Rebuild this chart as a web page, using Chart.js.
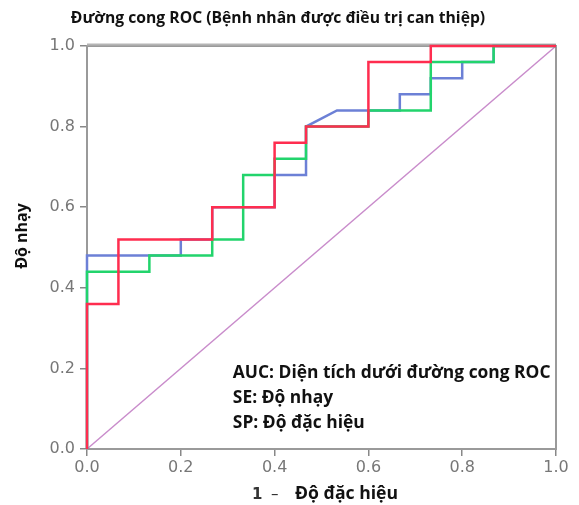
<!DOCTYPE html>
<html>
<head>
<meta charset="utf-8">
<script src="https://cdn.jsdelivr.net/npm/chart.js@4.4.0/dist/chart.umd.min.js"></script>
<style>
  html, body { margin: 0; padding: 0; background: #fff; }
  #wrap { width: 579px; height: 505px; }
</style>
</head>
<body>
<div id="wrap"><canvas id="roc-chart"></canvas></div>
<script>
// ROC curves (x step 1/15, y step 0.04)
var blueX = [0, 0, 0.2, 0.2, 0.267, 0.267, 0.4, 0.4, 0.467, 0.467, 0.533, 0.667, 0.667, 0.733, 0.733, 0.8, 0.8, 0.867, 0.867, 1];
var blueY = [0, 0.48, 0.48, 0.52, 0.52, 0.6, 0.6, 0.68, 0.68, 0.8, 0.84, 0.84, 0.88, 0.88, 0.92, 0.92, 0.96, 0.96, 1, 1];

var greenX = [0, 0, 0.133, 0.133, 0.267, 0.267, 0.333, 0.333, 0.4, 0.4, 0.467, 0.467, 0.6, 0.6, 0.733, 0.733, 0.867, 0.867, 1];
var greenY = [0, 0.44, 0.44, 0.48, 0.48, 0.52, 0.52, 0.68, 0.68, 0.72, 0.72, 0.8, 0.8, 0.84, 0.84, 0.96, 0.96, 1, 1];

var redX = [0, 0, 0.067, 0.067, 0.267, 0.267, 0.4, 0.4, 0.467, 0.467, 0.6, 0.6, 0.733, 0.733, 1];
var redY = [0, 0.36, 0.36, 0.52, 0.52, 0.6, 0.6, 0.76, 0.76, 0.8, 0.8, 0.96, 0.96, 1, 1];

var refX = [0, 1];
var refY = [0, 1];

var tickValues = [0, 0.2, 0.4, 0.6, 0.8, 1.0];
var chartTitle = "Đường cong ROC (Bệnh nhân được điều trị can thiệp)";
var yTitle = "Độ nhạy";
var xTitleMain = "Độ đặc hiệu";
var notes = ["AUC: Diện tích dưới đường cong ROC", "SE: Độ nhạy", "SP: Độ đặc hiệu"];

function toPoints(xs, ys) {
    var pts = [];
    for (var i = 0; i < xs.length; i++) {
        pts.push({x: xs[i], y: ys[i]});
    }
    return pts;
}

function lineSet(xs, ys, color, width, order) {
    return {
        data: toPoints(xs, ys),
        borderColor: color,
        borderWidth: width,
        pointRadius: 0,
        fill: false,
        tension: 0,
        clip: 5,
        order: order
    };
}

// frame under the lines, titles and notes on top
var framePlugin = {
    id: 'frame',
    beforeDatasetsDraw: function(chart) {
        var ctx = chart.ctx;
        var a = chart.chartArea;
        ctx.save();
        ctx.strokeStyle = '#9a9a9a';
        ctx.lineWidth = 2;
        ctx.strokeRect(a.left, a.top, a.right - a.left, a.bottom - a.top);
        ctx.strokeStyle = '#b5b5b5';
        ctx.beginPath();
        ctx.moveTo(a.left, a.top - 1.5);
        ctx.lineTo(a.right, a.top - 1.5);
        ctx.stroke();
        ctx.restore();
    },
    afterDatasetsDraw: function(chart) {
        var ctx = chart.ctx;
        var a = chart.chartArea;
        var xs = chart.scales.x, ys = chart.scales.y;
        ctx.save();
        ctx.fillStyle = '#111';
        ctx.textBaseline = 'middle';
        ctx.textAlign = 'center';
        ctx.font = 'bold 15.7px "Open Sans"';
        ctx.fillText(chartTitle, a.left + 191, 19);

        // notes
        ctx.font = 'bold 17.4px "Open Sans"';
        ctx.textBaseline = 'alphabetic';
        ctx.textAlign = 'left';
        var x0 = xs.getPixelForValue(0.311);
        for (var i = 0; i < notes.length; i++) {
            ctx.fillText(notes[i], x0, ys.getPixelForValue(0.175) + i * 25);
        }

        // x title
        ctx.textBaseline = 'middle';
        ctx.fillStyle = '#333';
        ctx.font = 'bold 15px "DejaVu Sans"';
        ctx.fillText('1', a.left + 165, 495);
        ctx.font = '15px "DejaVu Sans"';
        ctx.fillText('–', a.left + 184, 495);
        ctx.fillStyle = '#111';
        ctx.font = 'bold 17.6px "Open Sans"';
        ctx.fillText(xTitleMain, a.left + 208, 494);

        // y title
        ctx.translate(22, 236);
        ctx.rotate(-Math.PI / 2);
        ctx.textAlign = 'center';
        ctx.font = 'bold 16px "Open Sans"';
        ctx.fillText(yTitle, 0, 0);
        ctx.restore();
    }
};

function axisTicks(pad) {
    return {
        color: '#777',
        font: { family: '"DejaVu Sans"', size: 16 },
        padding: pad,
        callback: function(v) { return v.toFixed(1); }
    };
}
var axisGrid = { drawOnChartArea: false, drawTicks: true, tickLength: 7, color: '#888', lineWidth: 1.5 };

new Chart(document.getElementById('roc-chart'), {
    type: 'line',
    data: {
        datasets: [
            lineSet(refX, refY, '#c98ccb', 1.5, 4),
            lineSet(blueX, blueY, '#6c80d6', 2.5, 3),
            lineSet(greenX, greenY, '#22d46c', 2.5, 2),
            lineSet(redX, redY, '#ff2d4f', 2.5, 1)
        ]
    },
    options: {
        responsive: true,
        maintainAspectRatio: false,
        animation: false,
        layout: { padding: { left: 0, right: 23, top: 46, bottom: 0 } },
        plugins: {
            legend: { display: false },
            tooltip: { enabled: false },
            title: { display: false }
        },
        scales: {
            x: {
                type: 'linear',
                min: 0,
                max: 1,
                afterBuildTicks: function(scale) {
                    scale.ticks = tickValues.map(function(v) { return {value: v}; });
                },
                afterFit: function(scale) { scale.height = 56; },
                ticks: axisTicks(2),
                grid: axisGrid,
                border: { display: false }
            },
            y: {
                type: 'linear',
                min: 0,
                max: 1,
                afterBuildTicks: function(scale) {
                    scale.ticks = tickValues.map(function(v) { return {value: v}; });
                },
                afterFit: function(scale) { scale.width = 87; },
                ticks: axisTicks(5),
                grid: axisGrid,
                border: { display: false }
            }
        }
    },
    plugins: [framePlugin]
});
</script>
</body>
</html>
